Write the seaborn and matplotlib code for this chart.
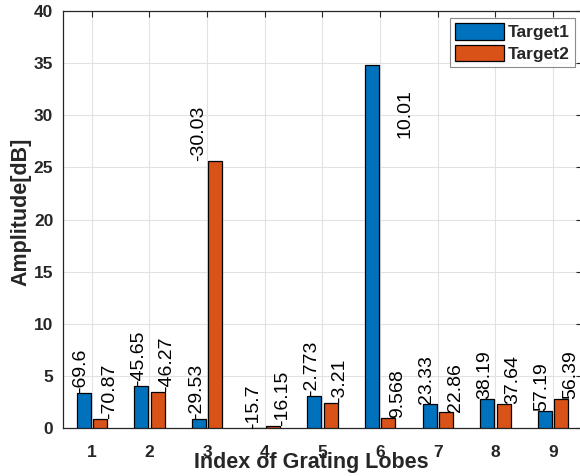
import matplotlib
matplotlib.use("Agg")
import matplotlib.pyplot as plt
from matplotlib.patches import Patch
import seaborn as sns
import pandas as pd

# Grating lobe index (x categories)
lobes = ["1", "2", "3", "4", "5", "6", "7", "8", "9"]

# Bar heights, amplitude in dB
target1_amp = [3.39, 4.06, 0.86, -0.05, 3.07, 34.82, 2.27, 2.75, 1.66]
target2_amp = [0.86, 3.42, 25.6, 0.15, 2.37, 0.93, 1.57, 2.30, 2.75]

# Annotation text written next to each bar
target1_tag = ["-69.6", "-45.65", "-29.53", "-15.7", "-2.773", "10.01", "23.33", "38.19", "57.19"]
target2_tag = ["-70.87", "-46.27", "-30.03", "-16.15", "-3.21", "9.568", "22.86", "37.64", "56.39"]

series = ["Target1", "Target2"]
colors = ["#0072BD", "#D95319"]

df = pd.DataFrame({
    "lobe": lobes * 2,
    "amp": target1_amp + target2_amp,
    "target": [series[0]] * len(lobes) + [series[1]] * len(lobes),
})

sns.set_style("white")
plt.rcParams["font.family"] = ["Liberation Sans", "DejaVu Sans"]

fig = plt.figure(figsize=(5.8, 4.76), dpi=100)
W, H = 580, 476
ax = fig.add_axes([63 / W, 1 - 428 / H, (582 - 63) / W, (428 - 11) / H])

sns.barplot(data=df, x="lobe", y="amp", hue="target", palette=colors,
            saturation=1, width=0.56, gap=0.14, edgecolor="black", linewidth=0.9,
            errorbar=None, legend=False, ax=ax, zorder=3)

ax.set_xlim(-0.5, 8.5)
ax.set_ylim(0, 40)
ax.set_yticks(range(0, 41, 5))

# grid
ax.grid(True, color="#e2e2e2", linewidth=0.8, zorder=0)
ax.set_axisbelow(True)

text_col = "#262626"
for s in ax.spines.values():
    s.set_color(text_col)
    s.set_linewidth(0.9)
    s.set_visible(True)
ax.tick_params(axis="both", direction="in", length=4, width=0.8, color=text_col,
               top=True, right=True, labelsize=12.5, labelcolor=text_col)
ax.tick_params(axis="x", pad=12)
ax.tick_params(axis="y", pad=7)
for lab in ax.get_xticklabels() + ax.get_yticklabels():
    lab.set_fontweight("bold")

ax.set_xlabel("Index of Grating Lobes", fontsize=15.5, fontweight="bold", color=text_col)
ax.set_ylabel("Amplitude[dB]", fontsize=15.5, fontweight="bold", color=text_col)
ax.xaxis.set_label_coords(0.478, -0.057)
ax.yaxis.set_label_coords(-0.060, 0.519)

# value annotations
tags = [target1_tag, target2_tag]
base_dx = [-0.19, 0.30]
special = {(2, 1): (-0.15, 1.0), (5, 0): (0.43, 0.8)}
for si, cont in enumerate(ax.containers):
    for bar in cont:
        xc = bar.get_x() + bar.get_width() / 2
        gi = int(round(xc))
        h = bar.get_height() if bar.get_y() >= 0 else bar.get_y()
        dx, frac = special.get((gi, si), (base_dx[si], 1.0))
        ax.text(gi + dx, h * frac, tags[si][gi], rotation=90, ha="center",
                va="bottom", fontsize=14, color="black", zorder=4)

handles = [Patch(facecolor=c, edgecolor="black", linewidth=0.9) for c in colors]
leg = ax.legend(handles, series, loc="upper right",
                bbox_to_anchor=(1 - 7 / 519, 1 - 7 / 417), borderaxespad=0,
                fancybox=False, frameon=True, edgecolor="#6e6e6e",
                prop={"weight": "bold", "size": 12.5},
                handlelength=2.8, handleheight=1.1, handletextpad=0.25,
                labelspacing=0.25, borderpad=0.3)
leg.get_frame().set_linewidth(0.8)
for t in leg.get_texts():
    t.set_color(text_col)

fig.savefig("out.png", dpi=100)
